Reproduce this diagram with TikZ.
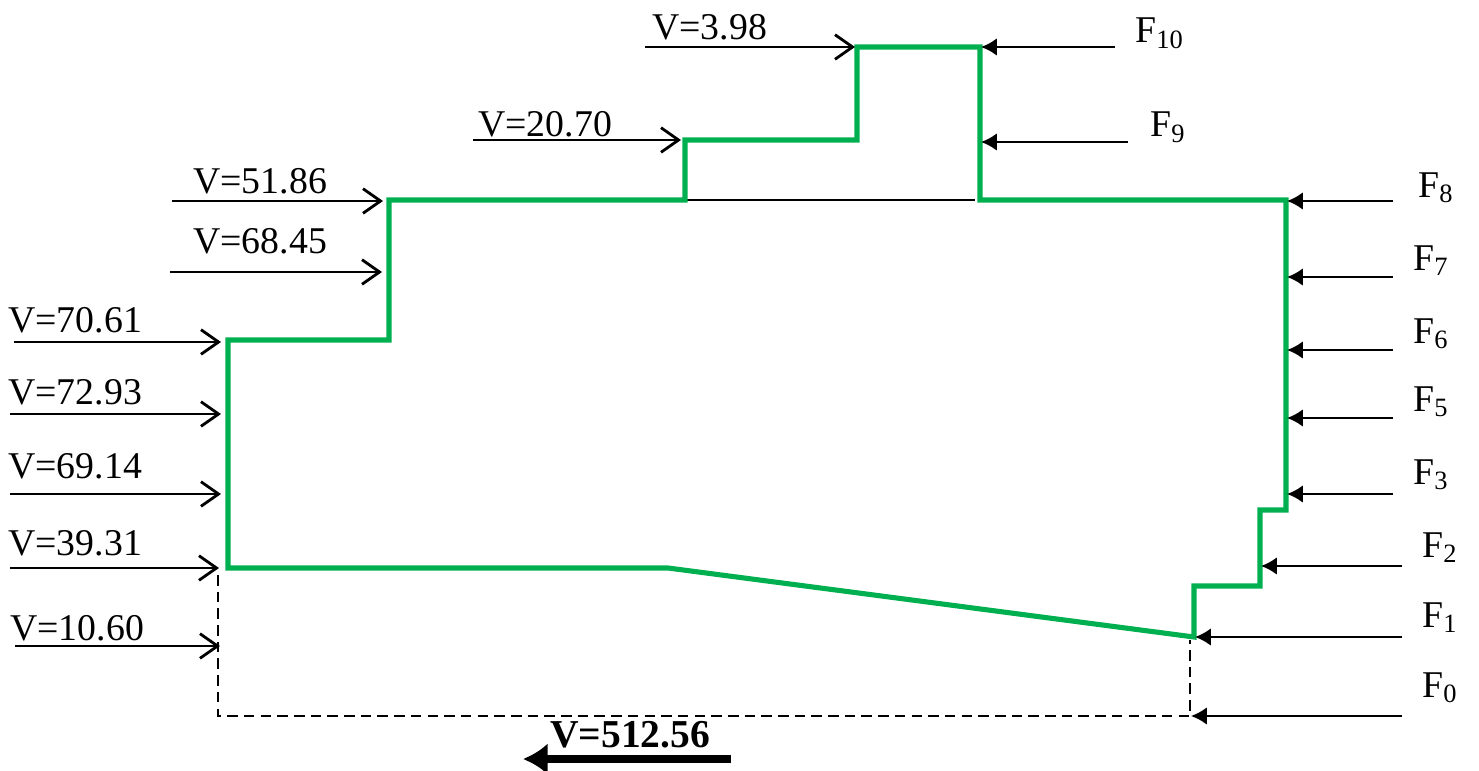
\documentclass[tikz,border=0pt]{standalone}
\usepackage{fontspec}
\setmainfont{Liberation Serif}
\usetikzlibrary{arrows.meta}
\definecolor{profgreen}{RGB}{0,176,80}
\tikzset{
  vin/.style={line width=1.3pt,-{Straight Barb[length=10pt,width=14pt,line width=1.6pt]}},
  fin/.style={line width=1.3pt,-{Latex[length=9pt,width=10pt]}},
  lbl/.style={anchor=base west,inner sep=0pt,font=\fontsize{21.5}{25}\selectfont},
  outline/.style={profgreen,line width=2.9pt,line join=miter},
  hidden/.style={line width=1.4pt,dash pattern=on 6pt off 3.5pt}
}

\begin{document}
\begin{tikzpicture}[x=0.02cm,y=-0.02cm]
\useasboundingbox (0,0) rectangle (1479,770);
% outline corners
\coordinate (A) at (228,568);
\coordinate (B) at (228,340);
\coordinate (C) at (389,340);
\coordinate (D) at (389,200);
\coordinate (E) at (685,200);
\coordinate (G) at (685,140);
\coordinate (H) at (857,140);
\coordinate (I) at (857,47);
\coordinate (J) at (980,47);
\coordinate (K) at (980,200);
\coordinate (L) at (1286,200);
\coordinate (M) at (1286,510);
\coordinate (N) at (1260,510);
\coordinate (O) at (1260,586);
\coordinate (P) at (1194,586);
\coordinate (Q) at (1194,637);
\coordinate (R) at (668,568);
% base line below step
\coordinate (E2) at (975,200);
\draw[line width=1.1pt] (E) -- (E2);
% dashed part
\coordinate (S1) at (218,575);
\coordinate (S2) at (218,716);
\coordinate (S3) at (1190,716);
\coordinate (S4) at (1190,640);
\draw[hidden] (S1) -- (S2) -- (S3) -- (S4);
\draw[outline] (A) -- (B) -- (C) -- (D) -- (E) -- (G) -- (H) -- (I) -- (J)
  -- (K) -- (L) -- (M) -- (N) -- (O) -- (P) -- (Q) -- (R) -- cycle;

% left side velocities
\foreach \xa/\xb/\y/\xt/\yt/\v [count=\i] in {645/855/47/652/40/3.98, 473/681/140/478/137/20.70,
    172/383/201/193/194/51.86, 170/382/272/193/253/68.45, 14/221/342/8/332/70.61,
    10/221/414/8/404/72.93, 10/221/494/8/478/69.14, 10/219/568/8/555/39.31,
    15/220/646/10/640/10.60} {
  \coordinate (v\i s) at (\xa,\y);
  \coordinate (v\i e) at (\xb,\y);
  \draw[vin] (v\i s) -- (v\i e);
  \node[lbl] (v\i) at (\xt,\yt) {V=\v};
}

% right side forces
\foreach \xa/\xb/\y/\xt/\yt/\f in {1115/981/47/1135/43/10, 1128/981/142/1150/137/9,
    1393/1287/201/1418/197/8, 1393/1287/277/1413/270/7, 1393/1287/350/1413/343/6,
    1393/1287/418/1413/411/5, 1393/1287/494/1413/484/3, 1402/1261/566/1422/557/2,
    1402/1195/637/1422/627/1, 1402/1191/716/1422/697/0} {
  \coordinate (f\f s) at (\xa,\y);
  \coordinate (f\f e) at (\xb,\y);
  \draw[fin] (f\f s) -- (f\f e);
  \node[lbl] (f\f) at (\xt,\yt) {F\textsubscript{\f}};
}

% total
\node[lbl,font=\fontsize{22.5}{26}\selectfont\bfseries] (vtot) at (550,747) {V=512.56};
\coordinate (T1) at (731,759);
\coordinate (T2) at (523,759);
\draw[line width=5pt,-{Latex[length=14pt,width=18pt]}] (T1) -- (T2);
\end{tikzpicture}
\end{document}
